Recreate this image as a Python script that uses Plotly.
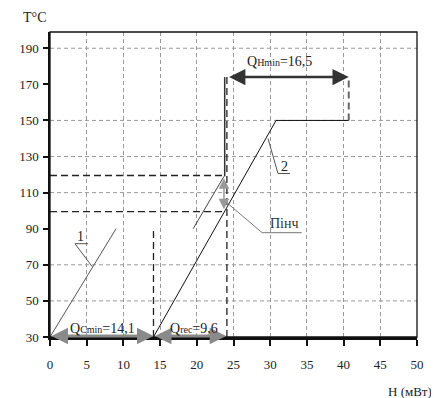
import plotly.graph_objects as go

# ---- data ----
x_ticks = [0, 5, 10, 15, 20, 25, 30, 35, 40, 45, 50]
y_ticks = [30, 50, 70, 90, 110, 130, 150, 170, 190]
y_grid = [50, 70, 110, 130, 150, 190]

curve1_x = [0, 9.0]
curve1_y = [30, 90]

curve2_x = [14.1, 30.8, 40.7]
curve2_y = [30, 150, 150]

shifted_x = [19.5, 23.7]
shifted_y = [90, 119]

vert_solid_x = [23.8, 23.8]
vert_solid_y = [119, 174]

dash_h120_x = [0, 23.8]
dash_h120_y = [119.5, 119.5]
dash_h100_x = [0, 24.0]
dash_h100_y = [99.5, 99.5]
dash_v14_x = [14.1, 14.1]
dash_v14_y = [30, 90]
dash_v24_x = [24.1, 24.1]
dash_v24_y = [30, 174]
dash_v41_x = [40.7, 40.7]
dash_v41_y = [150, 174]

q_cmin = [0, 14.1]
q_rec = [14.1, 24.0]
q_hmin = [24.2, 40.7]
q_hmin_y = 174
dt_arrow_x = 23.7
dt_arrow_y = [100, 118]

lead1_x = [5.75, 3.4, 5.2]
lead1_y = [69, 81.7, 81.7]
lead2_x = [29.7, 31.06, 32.7]
lead2_y = [140, 120.6, 120.6]
leadp_x = [24.25, 28.9, 34.3]
leadp_y = [103.9, 87.8, 87.8]

FONT = "Liberation Serif"

fig = go.Figure()

def line(x, y, color="#222", width=1, dash="solid"):
    fig.add_trace(go.Scatter(x=x, y=y, mode="lines",
                             line=dict(color=color, width=width, dash=dash),
                             hoverinfo="skip", showlegend=False))

line(curve1_x, curve1_y, "#555", 1)
line(curve2_x, curve2_y, "#111", 1)
line(shifted_x, shifted_y, "#444", 1)
line(vert_solid_x, vert_solid_y, "#333", 1.5)
line(dash_h120_x, dash_h120_y, "#222", 1.3, "7px,4px")
line(dash_h100_x, dash_h100_y, "#222", 1.3, "7px,4px")
line(dash_v14_x, dash_v14_y, "#222", 1.3, "7px,4px")
line(dash_v24_x, dash_v24_y, "#222", 1.3, "7px,4px")
line(dash_v41_x, dash_v41_y, "#666", 2, "7px,4px")
line(lead1_x, lead1_y, "#555", 1)
line(lead2_x, lead2_y, "#555", 1)
line(leadp_x, leadp_y, "#777", 1)

# horizontal grid (only some levels)
for g in y_grid:
    fig.add_shape(type="line", xref="x", yref="y", x0=0, x1=50, y0=g, y1=g,
                  line=dict(color="#999", width=1, dash="4px,3px"), layer="below")

# plot border (thin)
fig.add_shape(type="rect", xref="paper", yref="paper", x0=0, x1=1, y0=0, y1=1,
              line=dict(color="#111", width=1.3))

def arrow(x0, x1, y0, y1, color, width, size):
    fig.add_annotation(x=x1, y=y1, ax=x0, ay=y0, xref="x", yref="y",
                       axref="x", ayref="y", text="", showarrow=True,
                       arrowhead=2, startarrowhead=2, arrowside="end+start",
                       arrowsize=size, startarrowsize=size, arrowwidth=width,
                       arrowcolor=color, standoff=0, startstandoff=0)

arrow(q_cmin[0], q_cmin[1], 30.6, 30.6, "#8a8a8a", 3, 1.1)
arrow(q_rec[0], q_rec[1], 30.6, 30.6, "#8a8a8a", 3, 1.1)
arrow(q_hmin[0], q_hmin[1], q_hmin_y, q_hmin_y, "#333", 2.5, 1.3)
arrow(dt_arrow_x, dt_arrow_x, dt_arrow_y[0], dt_arrow_y[1], "#999", 1.5, 1.4)

def text(x, y, t, size=14, color="#222"):
    fig.add_annotation(x=x, y=y, xref="x", yref="y", text=t, showarrow=False,
                       font=dict(family=FONT, size=size, color=color))

text(7.1, 34.6, "Q<span style='font-size:10px'>Cmin</span>=14,1")
text(19.6, 34.6, "Q<span style='font-size:10px'>rec</span>=9,6")
text(31.3, 182.5, "Q<span style='font-size:10px'>Hmin</span>=16,5")
text(4.2, 85.5, "1")
text(32.0, 124.5, "2")
text(32.0, 92.8, "Пінч", 14, "#333")

fig.add_annotation(xref="paper", yref="paper", x=-0.041, y=1.049, xanchor="center",
                   yanchor="middle", text="T°C", showarrow=False,
                   font=dict(family=FONT, size=14, color="#222"))
fig.add_annotation(xref="paper", yref="paper", x=1.045, y=-0.18, xanchor="right",
                   yanchor="middle", text="H (мВт)", showarrow=False,
                   font=dict(family=FONT, size=13, color="#222"))

fig.update_layout(
    width=431, height=390,
    margin=dict(l=42, r=22, t=24, b=61),
    paper_bgcolor="white", plot_bgcolor="white",
    font=dict(family=FONT, size=13, color="#222"),
    xaxis=dict(range=[0, 50], tickvals=x_ticks, ticks="outside", ticklen=6,
               tickwidth=2, tickcolor="#111", showline=True, linecolor="#111",
               linewidth=2.5, showgrid=True, gridcolor="#999", gridwidth=1,
               griddash="4px,3px", zeroline=False, fixedrange=True,
               ticklabelstandoff=8,
               tickfont=dict(family=FONT, size=13, color="#222")),
    yaxis=dict(range=[30, 199], tickvals=y_ticks, ticks="outside", ticklen=5,
               tickwidth=2, tickcolor="#111", showline=True, linecolor="#111",
               linewidth=1.5, showgrid=False, zeroline=False, fixedrange=True,
               ticklabelstandoff=2,
               tickfont=dict(family=FONT, size=13, color="#222")),
)

fig.write_html("out.html")
